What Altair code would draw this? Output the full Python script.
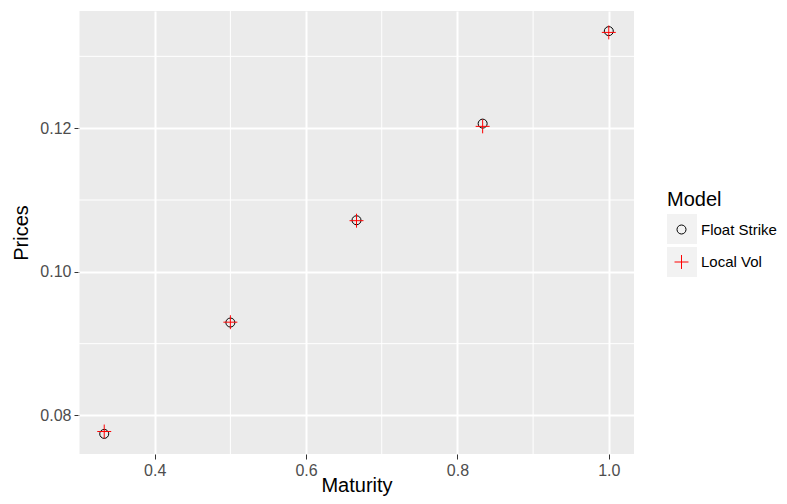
import altair as alt
import pandas as pd

# ---- data ----
maturity = [1/3, 0.5, 2/3, 5/6, 1.0]
float_strike = [0.07744, 0.09294, 0.10718, 0.12063, 0.13351]
local_vol = [0.07777, 0.09299, 0.10712, 0.12025, 0.13333]
models = ["Float Strike", "Local Vol"]
x_ticks = [0.4, 0.6, 0.8, 1.0]
y_ticks = [0.08, 0.10, 0.12]
x_minor = [0.3, 0.5, 0.7, 0.9]
y_minor = [0.09, 0.11, 0.13]

rows = []
for m, a, b in zip(maturity, float_strike, local_vol):
    rows.append({"Maturity": m, "Prices": a, "Model": models[0]})
    rows.append({"Maturity": m, "Prices": b, "Model": models[1]})
df = pd.DataFrame(rows)
xminor_df = pd.DataFrame({"Maturity": x_minor})
yminor_df = pd.DataFrame({"Prices": y_minor})
key_df = pd.DataFrame({"Key": models})

FONT = "Liberation Sans"
x_scale = alt.Scale(domain=[0.3, 1.0333], nice=False, zero=False)
y_scale = alt.Scale(domain=[0.07464, 0.13631], nice=False, zero=False)

x_axis = alt.Axis(values=x_ticks, format=".1f", title="Maturity", grid=True)
y_axis = alt.Axis(values=y_ticks, format=".2f", title="Prices", grid=True)

xminor = alt.Chart(xminor_df).mark_rule(color="white", strokeWidth=1).encode(
    x=alt.X("Maturity:Q", scale=x_scale, axis=x_axis)
)
yminor = alt.Chart(yminor_df).mark_rule(color="white", strokeWidth=1).encode(
    y=alt.Y("Prices:Q", scale=y_scale, axis=y_axis)
)

cross_path = "M-1.55,0L1.55,0M0,-1.55L0,1.55"
common_legend = dict(
    orient="none", legendX=588,
    titleFontSize=20, titleFont=FONT, titleFontWeight="normal", titleColor="black",
    titlePadding=12, labelFontSize=15, labelFont=FONT, labelColor="black",
    symbolSize=81, symbolStrokeWidth=1, symbolOffset=7, labelOffset=12,
    symbolFillColor="transparent", padding=0, zindex=2,
)
legend_fs = alt.Legend(title="Model", legendY=179, symbolType="circle",
                       symbolStrokeColor="black", **common_legend)
legend_lv = alt.Legend(title=None, legendY=243.5, symbolType=cross_path,
                       symbolStrokeColor="red", **common_legend)

fs_layer = alt.Chart(df).transform_filter(
    alt.datum.Model == models[0]
).mark_point(shape="circle", filled=False, strokeWidth=1, size=81, opacity=1).encode(
    x=alt.X("Maturity:Q", scale=x_scale, axis=x_axis),
    y=alt.Y("Prices:Q", scale=y_scale, axis=y_axis),
    color=alt.Color("Model:N", scale=alt.Scale(domain=[models[0]], range=["black"]), legend=legend_fs),
)
lv_layer = alt.Chart(df).transform_filter(
    alt.datum.Model == models[1]
).mark_point(shape=cross_path, filled=False, strokeWidth=1, size=81, opacity=1).encode(
    x=alt.X("Maturity:Q", scale=x_scale, axis=x_axis),
    y=alt.Y("Prices:Q", scale=y_scale, axis=y_axis),
    color=alt.Color("Model:N", scale=alt.Scale(domain=[models[1]], range=["red"]), legend=legend_lv),
)

legend_keys = alt.Legend(
    title=None, orient="none", legendX=588, legendY=203,
    symbolType="square", symbolSize=900, symbolStrokeWidth=0,
    labelColor="transparent", labelFontSize=15, rowPadding=3, padding=0, zindex=1,
)
keys = alt.Chart(key_df).mark_square(opacity=0).encode(
    fill=alt.Fill("Key:N", scale=alt.Scale(range=["#F2F2F2", "#F2F2F2"]), legend=legend_keys)
)

chart = alt.layer(xminor, yminor, fs_layer, lv_layer, keys).resolve_scale(
    color="independent"
).properties(
    width=555, height=443,
    autosize=alt.AutoSizeParams(type="none"),
    padding={"left": 71, "top": 3, "right": 145, "bottom": 42},
    background="white",
    view=alt.ViewBackground(fill="#EBEBEB", strokeWidth=0),
).configure_view(
    fill="#EBEBEB", strokeWidth=0
).configure_axis(
    domain=False, gridColor="white", gridWidth=2,
    tickColor="#333333", tickSize=5, tickWidth=1,
    labelFont=FONT, labelFontSize=16, labelColor="#4D4D4D", labelPadding=3,
    titleFont=FONT, titleFontSize=20, titleColor="black", titleFontWeight="normal",
).configure_axisX(titleY=37, titleBaseline="alphabetic").configure_axisY(titlePadding=8)

chart.save("out.html", embed_options={"renderer": "svg", "actions": False})
